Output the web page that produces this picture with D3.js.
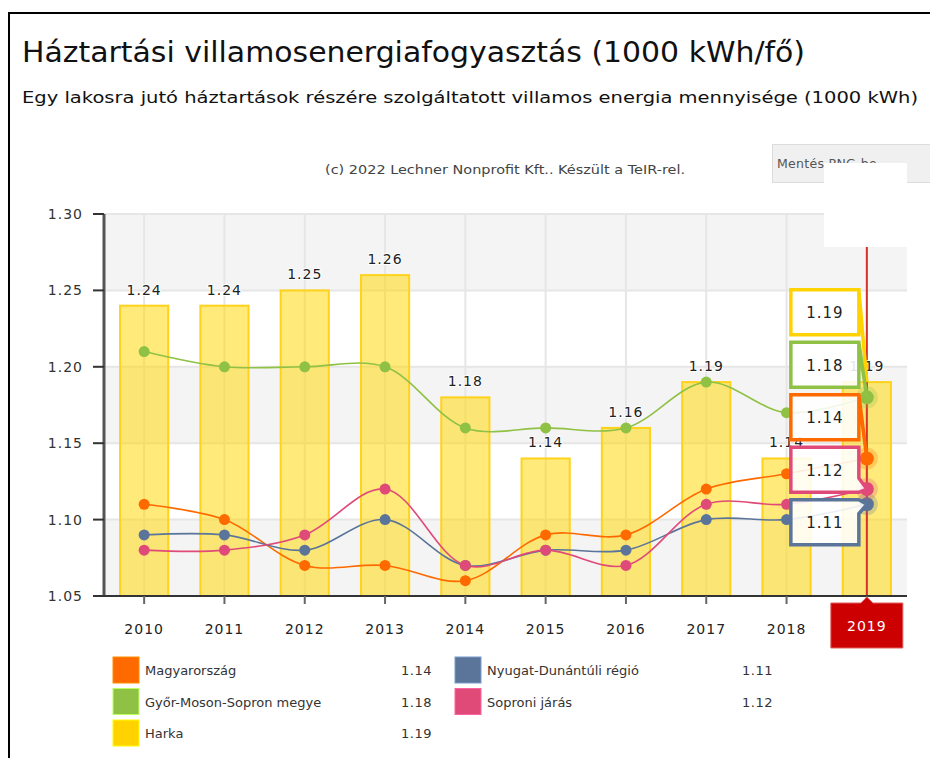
<!DOCTYPE html>
<html lang="hu">
<head>
<meta charset="utf-8">
<script src="https://cdn.jsdelivr.net/npm/d3@7"></script>
<style>
  html, body { margin: 0; padding: 0; background: #fff; }
  svg { display: block; }
  text { font-family: "DejaVu Sans", Verdana, sans-serif; }
</style>
</head>
<body>
<svg id="chart" width="930" height="758"></svg>
<script>
// ---- data ----
const years = ["2010", "2011", "2012", "2013", "2014", "2015", "2016", "2017", "2018", "2019"];
const harka = [1.24, 1.24, 1.25, 1.26, 1.18, 1.14, 1.16, 1.19, 1.14, 1.19];
const magyarorszag = [1.11, 1.10, 1.07, 1.07, 1.06, 1.09, 1.09, 1.12, 1.13, 1.14];
const gyorMosonSopron = [1.21, 1.20, 1.20, 1.20, 1.16, 1.16, 1.16, 1.19, 1.17, 1.18];
const nyugatDunantul = [1.09, 1.09, 1.08, 1.10, 1.07, 1.08, 1.08, 1.10, 1.10, 1.11];
const soproniJaras = [1.08, 1.08, 1.09, 1.12, 1.07, 1.08, 1.07, 1.11, 1.11, 1.12];
const yTicks = [1.05, 1.10, 1.15, 1.20, 1.25, 1.30];
const selectedYear = "2019";

const titleText = "Háztartási villamosenergiafogyasztás (1000 kWh/fő)";
const subtitleText = "Egy lakosra jutó háztartások részére szolgáltatott villamos energia mennyisége (1000 kWh)";
const creditText = "(c) 2022 Lechner Nonprofit Kft.. Készült a TeIR-rel.";

const lineSeries = [
  { name: "Magyarország", values: magyarorszag, color: "#ff6a00" },
  { name: "Győr-Moson-Sopron megye", values: gyorMosonSopron, color: "#8fc145" },
  { name: "Nyugat-Dunántúli régió", values: nyugatDunantul, color: "#5a7599" },
  { name: "Soproni járás", values: soproniJaras, color: "#e04a78" }
];
const barSeries = { name: "Harka", values: harka, color: "#ffd200" };

// ---- layout ----
const svg = d3.select("#chart");
const plot = { left: 104, right: 907, top: 214, bottom: 596 };

const x = d3.scaleBand().domain(years).range([plot.left, plot.right]).paddingInner(0.4).paddingOuter(0.2);
const xc = d => x(d) + x.bandwidth() / 2;
const y = d3.scaleLinear().domain([1.05, 1.30]).range([plot.bottom, plot.top]);

// frame
svg.append("path")
  .attr("d", "M9,758 L9,13 L930,13")
  .attr("fill", "none").attr("stroke", "#000").attr("stroke-width", 2);

// titles
svg.append("text").attr("x", 22).attr("y", 62)
  .attr("font-family", "'Open Sans', 'Liberation Sans', sans-serif")
  .attr("font-size", 29).attr("fill", "#111")
  .attr("textLength", 783).attr("lengthAdjust", "spacingAndGlyphs")
  .text(titleText);
svg.append("text").attr("x", 22).attr("y", 103)
  .attr("font-family", "'Open Sans', 'Liberation Sans', sans-serif")
  .attr("font-size", 15.5).attr("fill", "#111")
  .attr("textLength", 896).attr("lengthAdjust", "spacingAndGlyphs")
  .text(subtitleText);
svg.append("text").attr("x", 325).attr("y", 174)
  .attr("font-size", 12).attr("fill", "#444")
  .attr("textLength", 360).attr("lengthAdjust", "spacingAndGlyphs")
  .text(creditText);

// plot bands (alternating, bottom band grey)
const bandPairs = d3.pairs(yTicks);
svg.append("g").selectAll("rect").data(bandPairs).join("rect")
  .attr("x", plot.left).attr("width", plot.right - plot.left)
  .attr("y", d => y(d[1])).attr("height", d => y(d[0]) - y(d[1]))
  .attr("fill", (d, i) => i % 2 === 0 ? "#f4f4f4" : "#ffffff");

// grid
const grid = svg.append("g").attr("stroke", "#e6e6e6").attr("stroke-width", 2);
grid.selectAll("line.h").data(yTicks).join("line").attr("class", "h")
  .attr("x1", plot.left).attr("x2", plot.right)
  .attr("y1", d => y(d)).attr("y2", d => y(d));
grid.selectAll("line.v").data(years).join("line").attr("class", "v")
  .attr("x1", d => xc(d)).attr("x2", d => xc(d))
  .attr("y1", plot.top).attr("y2", plot.bottom);

// bars
svg.append("g").selectAll("rect").data(years).join("rect")
  .attr("x", d => x(d)).attr("width", x.bandwidth())
  .attr("y", (d, i) => y(harka[i])).attr("height", (d, i) => plot.bottom - y(harka[i]))
  .attr("fill", "rgba(255,214,0,0.52)")
  .attr("stroke", "#ffd21c").attr("stroke-width", 2);

// crosshair on the selected year
svg.append("line")
  .attr("x1", xc(selectedYear)).attr("x2", xc(selectedYear))
  .attr("y1", plot.top).attr("y2", plot.bottom + 2)
  .attr("stroke", "#d9302c").attr("stroke-width", 2);

// bar value labels
svg.append("g").selectAll("text").data(years).join("text")
  .attr("x", d => xc(d)).attr("y", (d, i) => y(harka[i]) - 11)
  .attr("text-anchor", "middle").attr("font-size", 14).attr("letter-spacing", 1)
  .attr("fill", "#222").attr("stroke", "#fff").attr("stroke-width", 2).attr("paint-order", "stroke")
  .text((d, i) => d3.format(".2f")(harka[i]));

// lines
const line = d3.line().x((d, i) => xc(years[i])).y(d => y(d)).curve(d3.curveCatmullRom.alpha(0.5));
lineSeries.forEach(s => {
  const g = svg.append("g");
  g.append("path").attr("d", line(s.values)).attr("fill", "none")
    .attr("stroke", s.color).attr("stroke-width", 1.6);
  g.selectAll("circle").data(s.values).join("circle")
    .attr("cx", (d, i) => xc(years[i])).attr("cy", d => y(d))
    .attr("r", (d, i) => years[i] === selectedYear ? 7 : 5.5)
    .attr("fill", s.color);
  const si = years.indexOf(selectedYear);
  g.append("circle").attr("cx", xc(selectedYear)).attr("cy", y(s.values[si]))
    .attr("r", 11).attr("fill", s.color).attr("opacity", 0.25);
});

// axes
const yAxis = svg.append("g");
yAxis.append("line").attr("x1", plot.left).attr("x2", plot.left)
  .attr("y1", plot.top).attr("y2", plot.bottom).attr("stroke", "#555").attr("stroke-width", 3);
yAxis.selectAll("line.t").data(yTicks).join("line").attr("class", "t")
  .attr("x1", plot.left - 11).attr("x2", plot.left)
  .attr("y1", d => y(d)).attr("y2", d => y(d)).attr("stroke", "#333").attr("stroke-width", 2);
yAxis.selectAll("text").data(yTicks).join("text")
  .attr("x", plot.left - 21).attr("y", d => y(d) + 5).attr("text-anchor", "end")
  .attr("font-size", 14).attr("letter-spacing", 1).attr("fill", "#333")
  .text(d => d3.format(".2f")(d));

const xAxis = svg.append("g");
xAxis.append("line").attr("x1", plot.left).attr("x2", plot.right)
  .attr("y1", plot.bottom).attr("y2", plot.bottom).attr("stroke", "#333").attr("stroke-width", 2);
xAxis.selectAll("line.t").data(years).join("line").attr("class", "t")
  .attr("x1", d => xc(d)).attr("x2", d => xc(d))
  .attr("y1", plot.bottom).attr("y2", plot.bottom + 8).attr("stroke", "#666").attr("stroke-width", 2);
xAxis.selectAll("text").data(years.filter(d => d !== selectedYear)).join("text")
  .attr("x", d => xc(d)).attr("y", plot.bottom + 38).attr("text-anchor", "middle")
  .attr("font-size", 14).attr("letter-spacing", 1).attr("fill", "#222")
  .text(d => d);

// selected-year label box on the x axis
const sx = xc(selectedYear);
svg.append("path")
  .attr("d", `M${sx - 36},${plot.bottom + 7} L${sx - 6},${plot.bottom + 7} L${sx},${plot.bottom + 1} L${sx + 6},${plot.bottom + 7} L${sx + 36},${plot.bottom + 7} L${sx + 36},${plot.bottom + 52} L${sx - 36},${plot.bottom + 52} Z`)
  .attr("fill", "#cc0000").attr("stroke", "#e06060").attr("stroke-width", 1);
svg.append("text").attr("x", sx).attr("y", plot.bottom + 35).attr("text-anchor", "middle")
  .attr("font-size", 14).attr("letter-spacing", 1).attr("fill", "#fff")
  .text(selectedYear);

// split tooltip for the selected year
const si = years.indexOf(selectedYear);
const tips = [
  { value: harka[si], color: barSeries.color },
  ...lineSeries.map(s => ({ value: s.values[si], color: s.color }))
].map(t => ({ ...t, anchor: y(t.value) }));
tips.sort((a, b) => a.anchor - b.anchor);

const boxW = 68, boxH = 45, pitch = 52.5, lift = 29;
// distribute boxes so they don't overlap, keeping clusters centred on their anchors
let clusters = tips.map(t => ({ items: [t], target: t.anchor - lift }));
let merged = true;
while (merged) {
  merged = false;
  for (let i = 1; i < clusters.length; i++) {
    const a = clusters[i - 1], b = clusters[i];
    const aEnd = a.target + (a.items.length - 1) * pitch / 2;
    const bStart = b.target - (b.items.length - 1) * pitch / 2;
    if (bStart - aEnd < pitch) {
      const items = a.items.concat(b.items);
      const target = d3.mean(items, t => t.anchor - lift);
      clusters.splice(i - 1, 2, { items, target });
      merged = true;
      break;
    }
  }
}
clusters.forEach(c => c.items.forEach((t, k) => {
  t.cy = c.target + (k - (c.items.length - 1) / 2) * pitch;
}));

const tipG = svg.append("g");
tips.forEach(t => {
  const bx = sx - 8 - boxW, by = t.cy - boxH / 2, br = bx + boxW, bb = by + boxH;
  let d;
  if (t.anchor >= by && t.anchor <= bb) {
    const cy = Math.max(by + 7, Math.min(bb - 7, t.anchor));
    d = `M${bx},${by} L${br},${by} L${br},${cy - 7} L${sx},${t.anchor} L${br},${cy + 7} L${br},${bb} L${bx},${bb} Z`;
  } else {
    d = `M${bx},${by} L${br},${by} L${sx},${t.anchor} L${br},${by + 2} L${br},${bb} L${bx},${bb} Z`;
  }
  tipG.append("path").attr("d", d)
    .attr("fill", "rgba(255,255,255,0.88)").attr("stroke", t.color).attr("stroke-width", 3.5)
    .attr("stroke-linejoin", "miter");
  tipG.append("text").attr("x", bx + boxW / 2).attr("y", t.cy + 6).attr("text-anchor", "middle")
    .attr("font-size", 15).attr("letter-spacing", 1).attr("fill", "#222")
    .text(d3.format(".2f")(t.value));
});

// export button, partly hidden by its menu area
svg.append("rect").attr("x", 772.5).attr("y", 144.5).attr("width", 160).attr("height", 38)
  .attr("fill", "#f0f0f0").attr("stroke", "#dcdcdc").attr("stroke-width", 1);
svg.append("text").attr("x", 777).attr("y", 168).attr("font-size", 12.5).attr("letter-spacing", 0.3).attr("fill", "#555")
  .text("Mentés PNG-be");
svg.append("rect").attr("x", 824).attr("y", 163).attr("width", 83).attr("height", 84).attr("fill", "#fff");

// legend
const legendItems = [
  { name: "Magyarország", values: magyarorszag, color: "#ff6a00", col: 0, row: 0 },
  { name: "Győr-Moson-Sopron megye", values: gyorMosonSopron, color: "#8fc145", col: 0, row: 1 },
  { name: "Harka", values: harka, color: "#ffd200", col: 0, row: 2 },
  { name: "Nyugat-Dunántúli régió", values: nyugatDunantul, color: "#5a7599", col: 1, row: 0 },
  { name: "Soproni járás", values: soproniJaras, color: "#e04a78", col: 1, row: 1 }
];
const colX = [113, 455], colValueX = [432, 773];
const legend = svg.append("g");
legendItems.forEach(it => {
  const lx = colX[it.col], ly = 657 + it.row * 31.5;
  legend.append("rect").attr("x", lx).attr("y", ly).attr("width", 26).attr("height", 26)
    .attr("fill", it.color).attr("stroke", d3.color(it.color).brighter(0.8)).attr("stroke-width", 1);
  legend.append("text").attr("x", lx + 32).attr("y", ly + 18).attr("font-size", 13)
    .attr("fill", "#333").text(it.name);
  legend.append("text").attr("x", colValueX[it.col]).attr("y", ly + 18).attr("text-anchor", "end")
    .attr("font-size", 13).attr("letter-spacing", 0.5).attr("fill", "#333")
    .text(d3.format(".2f")(it.values[si]));
});
</script>
</body>
</html>
